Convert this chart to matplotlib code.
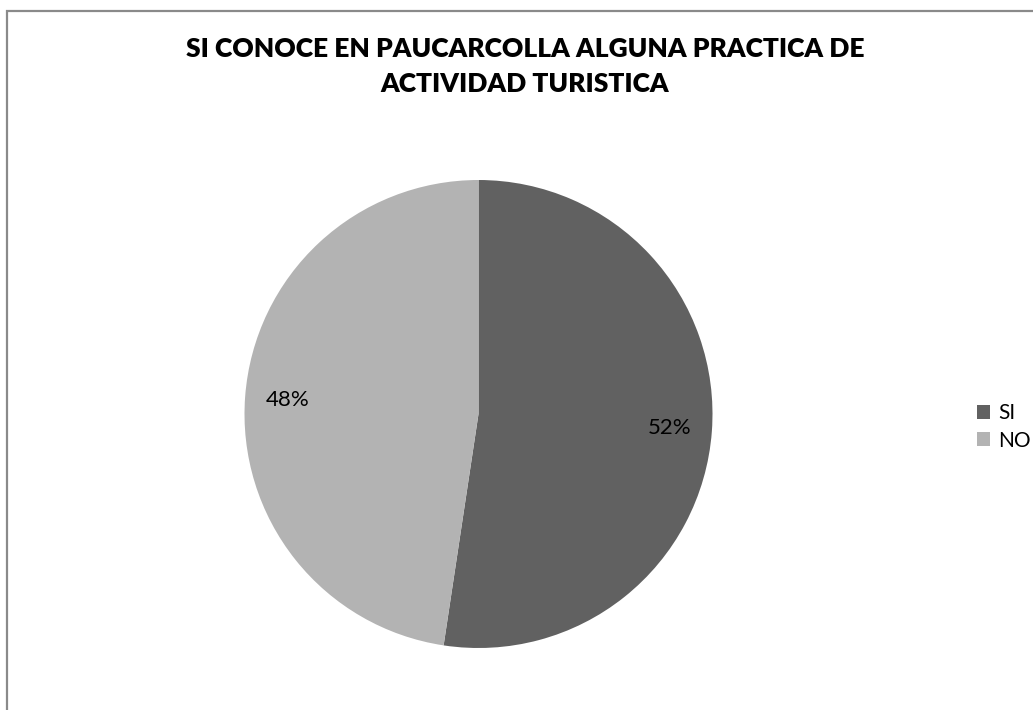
import matplotlib.pyplot as plt
from matplotlib.patches import Rectangle, Patch

plt.rcParams["font.family"] = ["Lato", "DejaVu Sans"]

TITLE = "SI CONOCE EN PAUCARCOLLA ALGUNA PRACTICA DE\nACTIVIDAD TURISTICA"
labels = ["SI", "NO"]
values = [22, 20]
colors = ["#616161", "#b3b3b3"]

W, H = 1033, 710
fig = plt.figure(figsize=(W / 100, H / 100), dpi=100)

# chart frame (only top/left visible, rest is cropped)
fig.patches.append(Rectangle((6.5 / W, -0.1), 1.2, 1 - 10.5 / H + 0.1,
                             transform=fig.transFigure, fill=False,
                             edgecolor="#8a8a8a", linewidth=1.6))

fig.text(525 / W, 1 - 37 / H, TITLE, ha="center", va="top",
         fontsize=19, fontweight="heavy", linespacing=1.55)

cx, cy, r = 478.5, 414, 234
ax = fig.add_axes([(cx - r) / W, 1 - (cy + r) / H, 2 * r / W, 2 * r / H])
wedges, texts, autotexts = ax.pie(values, colors=colors, startangle=90,
                                  counterclock=False, autopct="%1.0f%%",
                                  pctdistance=0.82,
                                  textprops=dict(fontsize=16, color="black"))
ax.set_xlim(-1, 1)
ax.set_ylim(-1, 1)
ax.set_aspect("equal")

handles = [Patch(facecolor=c, edgecolor="none") for c in colors]
fig.legend(handles, labels, loc="center left",
           bbox_to_anchor=(958 / W, 1 - 427 / H), frameon=False,
           fontsize=15, handlelength=0.65, handleheight=0.65,
           handletextpad=0.4, labelspacing=0.35)

fig.savefig("out.png", dpi=100, facecolor="white")
